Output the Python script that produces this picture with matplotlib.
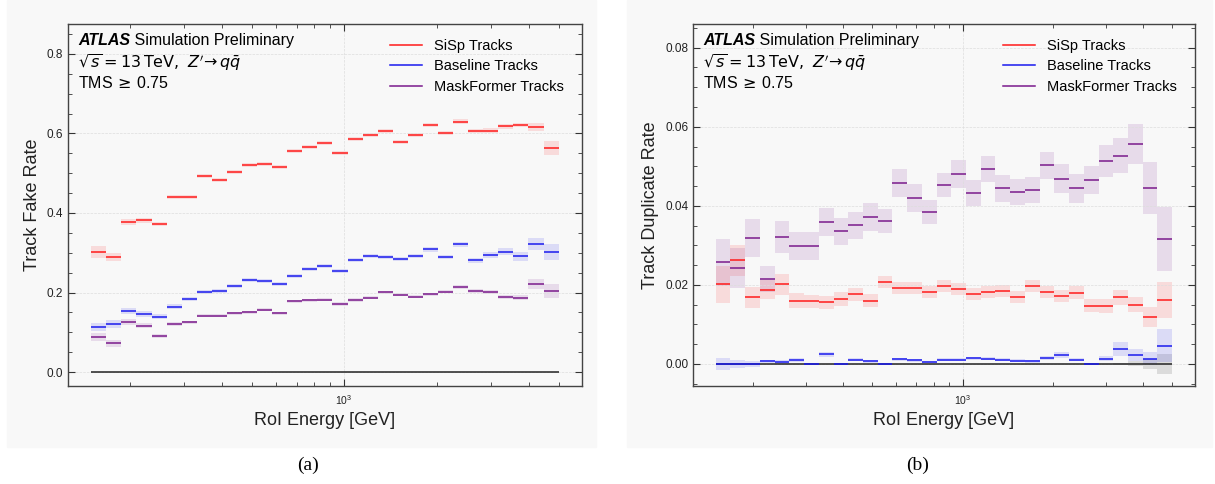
# Track fake / duplicate rate vs RoI energy (two panels)

import numpy as np
import matplotlib
matplotlib.use('Agg')
import matplotlib.pyplot as plt
from matplotlib.patches import Rectangle
from matplotlib.lines import Line2D

plt.rcParams['font.family'] = ['Liberation Sans', 'DejaVu Sans']
plt.rcParams['mathtext.fontset'] = 'dejavusans'

# 31 log-spaced RoI energy bins, 150 GeV - 5 TeV
edges = np.logspace(np.log10(150), np.log10(5000), 32)

# ---- (a) fake rate
fake_sisp = [0.302, 0.289, 0.378, 0.382, 0.372, 0.440, 0.441, 0.493, 0.483, 0.502, 0.521,
             0.523, 0.515, 0.556, 0.566, 0.575, 0.550, 0.587, 0.597, 0.605, 0.579, 0.595,
             0.621, 0.600, 0.629, 0.605, 0.607, 0.618, 0.621, 0.616, 0.563]
fake_sisp_err = [0.014, 0.011, 0.008, 0.006, 0.006, 0.005, 0.005, 0.005, 0.005, 0.005, 0.005,
                 0.005, 0.005, 0.005, 0.005, 0.005, 0.005, 0.005, 0.005, 0.005, 0.005, 0.005,
                 0.005, 0.005, 0.006, 0.005, 0.006, 0.006, 0.006, 0.009, 0.018]
fake_base = [0.114, 0.120, 0.154, 0.146, 0.139, 0.164, 0.183, 0.201, 0.204, 0.217, 0.231,
             0.229, 0.222, 0.242, 0.259, 0.267, 0.255, 0.281, 0.293, 0.290, 0.284, 0.293,
             0.309, 0.289, 0.321, 0.281, 0.295, 0.303, 0.291, 0.322, 0.302]
fake_base_err = [0.010, 0.010, 0.008, 0.007, 0.006, 0.006, 0.005, 0.005, 0.005, 0.005, 0.005,
                 0.005, 0.005, 0.005, 0.005, 0.005, 0.005, 0.005, 0.005, 0.005, 0.005, 0.005,
                 0.006, 0.006, 0.006, 0.006, 0.007, 0.008, 0.012, 0.016, 0.021]
fake_mf = [0.087, 0.072, 0.126, 0.117, 0.090, 0.120, 0.125, 0.142, 0.142, 0.148, 0.150,
           0.157, 0.148, 0.178, 0.180, 0.182, 0.171, 0.181, 0.187, 0.201, 0.194, 0.189,
           0.196, 0.202, 0.214, 0.204, 0.202, 0.189, 0.187, 0.221, 0.203]
fake_mf_err = [0.010, 0.009, 0.007, 0.006, 0.005, 0.005, 0.004, 0.004, 0.004, 0.004, 0.004,
               0.004, 0.004, 0.004, 0.004, 0.004, 0.004, 0.004, 0.004, 0.004, 0.004, 0.004,
               0.004, 0.004, 0.005, 0.005, 0.005, 0.006, 0.007, 0.013, 0.018]

# ---- (b) duplicate rate
dup_sisp = [0.0201, 0.0262, 0.0168, 0.0188, 0.0201, 0.0160, 0.0158, 0.0156, 0.0164, 0.0176,
            0.0160, 0.0207, 0.0191, 0.0191, 0.0182, 0.0197, 0.0190, 0.0177, 0.0181, 0.0185,
            0.0170, 0.0197, 0.0181, 0.0172, 0.0180, 0.0147, 0.0146, 0.0168, 0.0150, 0.0119,
            0.0162]
dup_sisp_err = [0.0046, 0.0040, 0.0027, 0.0025, 0.0026, 0.0019, 0.0017, 0.0017, 0.0017, 0.0017,
                0.0016, 0.0015, 0.0015, 0.0015, 0.0015, 0.0015, 0.0015, 0.0015, 0.0015, 0.0015,
                0.0015, 0.0015, 0.0015, 0.0015, 0.0016, 0.0016, 0.0017, 0.0019, 0.0019, 0.0026,
                0.0045]
dup_base = [0.0000, 0.0000, 0.0000, 0.0006, 0.0005, 0.0009, 0.0000, 0.0024, 0.0000, 0.0010,
            0.0007, 0.0000, 0.0012, 0.0009, 0.0005, 0.0011, 0.0010, 0.0014, 0.0013, 0.0011,
            0.0008, 0.0006, 0.0014, 0.0023, 0.0010, 0.0000, 0.0013, 0.0038, 0.0023, 0.0013,
            0.0046]
dup_base_err = [0.0016, 0.0010, 0.0007, 0.0005, 0.0005, 0.0005, 0.0003, 0.0007, 0.0003, 0.0004,
                0.0004, 0.0003, 0.0004, 0.0004, 0.0003, 0.0004, 0.0004, 0.0004, 0.0004, 0.0004,
                0.0004, 0.0003, 0.0005, 0.0007, 0.0004, 0.0003, 0.0007, 0.0017, 0.0015, 0.0017,
                0.0042]
dup_mf = [0.0257, 0.0243, 0.0318, 0.0215, 0.0321, 0.0298, 0.0298, 0.0359, 0.0335, 0.0351,
          0.0371, 0.0361, 0.0458, 0.0419, 0.0384, 0.0453, 0.0480, 0.0432, 0.0494, 0.0444,
          0.0435, 0.0439, 0.0502, 0.0469, 0.0444, 0.0465, 0.0513, 0.0527, 0.0556, 0.0445,
          0.0316]
dup_mf_err = [0.0060, 0.0050, 0.0048, 0.0033, 0.0040, 0.0036, 0.0036, 0.0035, 0.0035, 0.0034,
              0.0035, 0.0031, 0.0035, 0.0035, 0.0031, 0.0031, 0.0035, 0.0033, 0.0033, 0.0034,
              0.0033, 0.0033, 0.0034, 0.0036, 0.0036, 0.0036, 0.0040, 0.0045, 0.0050, 0.0066,
              0.0082]
dup_zero_err = [0.0] * 27 + [0.0003, 0.0006, 0.0013, 0.0025]

names = ['SiSp Tracks', 'Baseline Tracks', 'MaskFormer Tracks']
colors = ['#ff1a1a', '#1a1aee', '#7a1a8c']


def draw_series(ax, vals, errs, color):
    vals = np.array(vals)
    errs = np.array(errs)
    ax.stairs(vals + errs, edges, baseline=vals - errs, fill=True,
              color=color, alpha=0.13, lw=0)
    ax.hlines(vals, edges[:-1], edges[1:], color=color, lw=1.1)


def style_axes(ax, ylab, major, minor, fmt):
    ax.set_xscale('log')
    ax.set_facecolor('none')
    ax.set_yticks(np.arange(0, 10) * major)
    ax.yaxis.set_minor_locator(plt.MultipleLocator(minor))
    ax.yaxis.set_major_formatter(plt.FormatStrFormatter(fmt))
    ax.tick_params(which='both', direction='in', top=True, right=True,
                   labelsize=8.5, colors='#333333', labelcolor='#222222')
    ax.tick_params(which='major', length=5)
    ax.tick_params(which='minor', length=3)
    ax.tick_params(axis='x', which='major', labelsize=7.5, pad=5)
    for s in ax.spines.values():
        s.set_color('#444444')
        s.set_linewidth(1.0)
    ax.grid(True, which='major', ls='--', lw=0.5, color='#dddddd')
    ax.set_xlabel('RoI Energy [GeV]', fontsize=13, color='#222222')
    ax.set_ylabel(ylab, fontsize=13, color='#222222')
    t1 = ax.text(0.02, 0.975, 'ATLAS', transform=ax.transAxes, fontsize=11.5,
                 fontweight='bold', style='italic', va='top', ha='left')
    ax.annotate(' Simulation Preliminary', xy=(1, 0), xycoords=t1, fontsize=11.5,
                va='bottom', ha='left')
    ax.text(0.02, 0.922, r"$\sqrt{s}=13\,\mathrm{TeV},\ Z'\!\rightarrow q\bar{q}$",
            transform=ax.transAxes, fontsize=11.5, va='top', ha='left')
    ax.text(0.02, 0.86, r'TMS$\,\geq\,$0.75', transform=ax.transAxes,
            fontsize=11.5, va='top', ha='left')
    handles = [Line2D([], [], color=c, lw=1.1) for c in colors]
    ax.legend(handles, names, loc='upper right', frameon=False, fontsize=10.5,
              bbox_to_anchor=(0.99, 0.995), handlelength=2.2, labelspacing=0.45)


fig = plt.figure(figsize=(12.15, 4.84), dpi=100)
fig.patch.set_facecolor('white')
fig.patches.append(Rectangle((7 / 1215, 1 - 447 / 484), 589 / 1215, 447 / 484,
                             transform=fig.transFigure, color='#f8f8f8', zorder=-5))
fig.patches.append(Rectangle((627 / 1215, 1 - 447 / 484), 585 / 1215, 447 / 484,
                             transform=fig.transFigure, color='#f8f8f8', zorder=-5))

ax1 = fig.add_axes([68 / 1215, 98 / 484, 514 / 1215, 362 / 484])
ax2 = fig.add_axes([693 / 1215, 98 / 484, 502 / 1215, 362 / 484])

ax1.hlines(0, edges[0], edges[-1], color='#222222', lw=1.1)
draw_series(ax1, fake_sisp, fake_sisp_err, colors[0])
draw_series(ax1, fake_base, fake_base_err, colors[1])
draw_series(ax1, fake_mf, fake_mf_err, colors[2])
style_axes(ax1, 'Track Fake Rate', 0.2, 0.05, '%.1f')
ax1.set_ylim(-0.035, 0.875)

zero = np.zeros(len(dup_zero_err))
ax2.stairs(zero + np.array(dup_zero_err), edges, baseline=zero - np.array(dup_zero_err),
           fill=True, color='#888888', alpha=0.25, lw=0)
ax2.hlines(0, edges[0], edges[-1], color='#222222', lw=1.1)
draw_series(ax2, dup_sisp, dup_sisp_err, colors[0])
draw_series(ax2, dup_base, dup_base_err, colors[1])
draw_series(ax2, dup_mf, dup_mf_err, colors[2])
style_axes(ax2, 'Track Duplicate Rate', 0.02, 0.005, '%.2f')
ax2.set_ylim(-0.0056, 0.086)

for ax in (ax1, ax2):
    ax.set_xlim(126, 5957)

fig.text(308 / 1215, 1 - 465 / 484, '(a)', fontsize=14, family='Liberation Serif',
         ha='center', va='center')
fig.text(918 / 1215, 1 - 465 / 484, '(b)', fontsize=14, family='Liberation Serif',
         ha='center', va='center')

fig.savefig('out.png', dpi=100)
